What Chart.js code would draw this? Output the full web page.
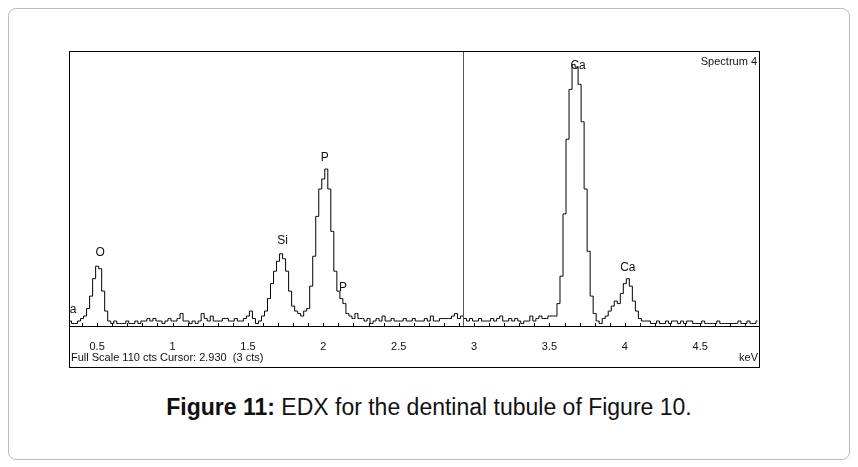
<!DOCTYPE html>
<html>
<head>
<meta charset="utf-8">
<script src="https://cdn.jsdelivr.net/npm/chart.js@4"></script>
<style>
  body { margin: 0; background: #fff; font-family: Arial, "Liberation Sans", sans-serif; }
  #frame { position: absolute; left: 8px; top: 8px; width: 840px; height: 450px; border: 1px solid #bbb; border-radius: 8px; }
  #box { position: absolute; left: 69px; top: 51px; width: 689px; height: 315px; border: 1px solid #000; }
  #caption { position: absolute; left: 0; width: 858px; top: 394px; text-align: center; font-size: 23px; color: #111; }
</style>
</head>
<body>
<div id="frame"></div>
<div id="box"><canvas id="edx"></canvas></div>
<div id="caption"><b>Figure 11:</b> EDX for the dentinal tubule of Figure 10.</div>
<script>
'use strict';
// channel layout (keV)
const START_KEV = 0.32;
const STEP_KEV = 0.02;
// counts per channel
const counts = [
  2,1,1,2,3,4,7,12,19,24,23,14,6,2,1,2,1,1,1,2,1,1,2,1,2,2,3,2,3,2,
  2,1,2,3,2,2,3,5,2,2,1,2,1,2,5,3,2,4,2,2,2,3,3,2,2,3,2,2,3,4,
  6,3,1,2,4,6,11,17,22,26,29,27,22,14,8,6,5,4,6,7,16,28,44,55,59,63,55,38,22,14,
  11,9,5,4,3,5,3,3,2,3,1,2,3,2,4,2,2,3,2,2,2,3,2,2,3,2,2,2,3,2,
  4,2,2,3,3,3,3,4,5,3,4,3,2,3,2,2,3,2,2,2,3,2,3,4,2,2,3,2,3,2,
  1,2,2,4,2,3,4,3,3,4,4,4,9,20,45,75,95,105,104,97,82,55,30,12,5,2,1,3,4,6,
  8,10,9,13,17,19,16,10,6,3,2,2,2,1,1,2,1,1,2,1,2,2,1,2,1,2,2,1,1,1,
  2,1,1,1,1,2,1,1,1,1,1,1,2,1,1,2,1,1,2
];
const tickValues = [0.5, 1, 1.5, 2, 2.5, 3, 3.5, 4, 4.5];
const peakNames = ['a', 'O', 'Si', 'P', 'P', 'Ca', 'Ca'];
const peakKeV = [0.34, 0.52, 1.73, 2.01, 2.13, 3.69, 4.02];
const peakCts = [4, 27, 32, 65, 13, 102, 21];
const cursorKeV = 2.93;
const fullScale = 110;

const points = counts.map((c, i) => ({ x: START_KEV + i * STEP_KEV, y: c }));

const decor = {
  id: 'decor',
  afterDatasetsDraw(chart) {
    const { ctx, chartArea: a, scales: { x, y } } = chart;
    ctx.save();
    ctx.strokeStyle = '#000';
    ctx.lineWidth = 1;
    // baseline + minor ticks
    ctx.beginPath();
    ctx.moveTo(a.left, Math.round(a.bottom) + 0.5);
    ctx.lineTo(a.right, Math.round(a.bottom) + 0.5);
    for (let v = 0.4; v < 4.9; v += 0.1) {
      const px = Math.round(x.getPixelForValue(v)) + 0.5;
      ctx.moveTo(px, a.bottom);
      ctx.lineTo(px, a.bottom - 3);
    }
    ctx.stroke();
    // cursor
    ctx.strokeStyle = '#555';
    ctx.beginPath();
    const cx = Math.round(x.getPixelForValue(cursorKeV)) + 0.5;
    ctx.moveTo(cx, 0);
    ctx.lineTo(cx, a.bottom);
    ctx.stroke();
    // peak labels
    ctx.fillStyle = '#111';
    ctx.font = '12px Arial';
    ctx.textAlign = 'center';
    ctx.textBaseline = 'bottom';
    peakNames.forEach((n, i) => ctx.fillText(n, x.getPixelForValue(peakKeV[i]), y.getPixelForValue(peakCts[i])));
    ctx.font = '11px Arial';
    ctx.textAlign = 'right';
    ctx.textBaseline = 'top';
    ctx.fillText('Spectrum 4', a.right - 2, 4);
    ctx.fillText('keV', a.right - 1, a.bottom + 26);
    ctx.textAlign = 'left';
    ctx.fillText('Full Scale ' + fullScale + ' cts Cursor: ' + cursorKeV.toFixed(3) + '  (3 cts)', a.left + 1, a.bottom + 26);
    ctx.restore();
  }
};

document.addEventListener('DOMContentLoaded', e => {
  const ctx = document.getElementById('edx');
  ctx.parentNode.style.height = '315px';
  new Chart(ctx, {
    type: 'line',
    data: { datasets: [{ data: points, stepped: 'middle', borderColor: '#000', borderWidth: 1, pointRadius: 0, fill: false }] },
    options: {
      responsive: true, maintainAspectRatio: false, animation: false,
      layout: { padding: 0 },
      plugins: { legend: { display: false }, tooltip: { enabled: false } },
      scales: {
        x: {
          type: 'linear', min: START_KEV, max: 4.89,
          grid: { display: false }, border: { display: false },
          afterBuildTicks: s => { s.ticks = tickValues.map(v => ({ value: v })); },
          afterFit: s => { s.height = 41; },
          ticks: { color: '#111', font: { size: 11, family: 'Arial' }, padding: 6, maxRotation: 0, callback: v => String(v) }
        },
        y: { display: false, min: 0, max: fullScale }
      }
    },
    plugins: [decor]
  });
});
</script>
</body>
</html>
